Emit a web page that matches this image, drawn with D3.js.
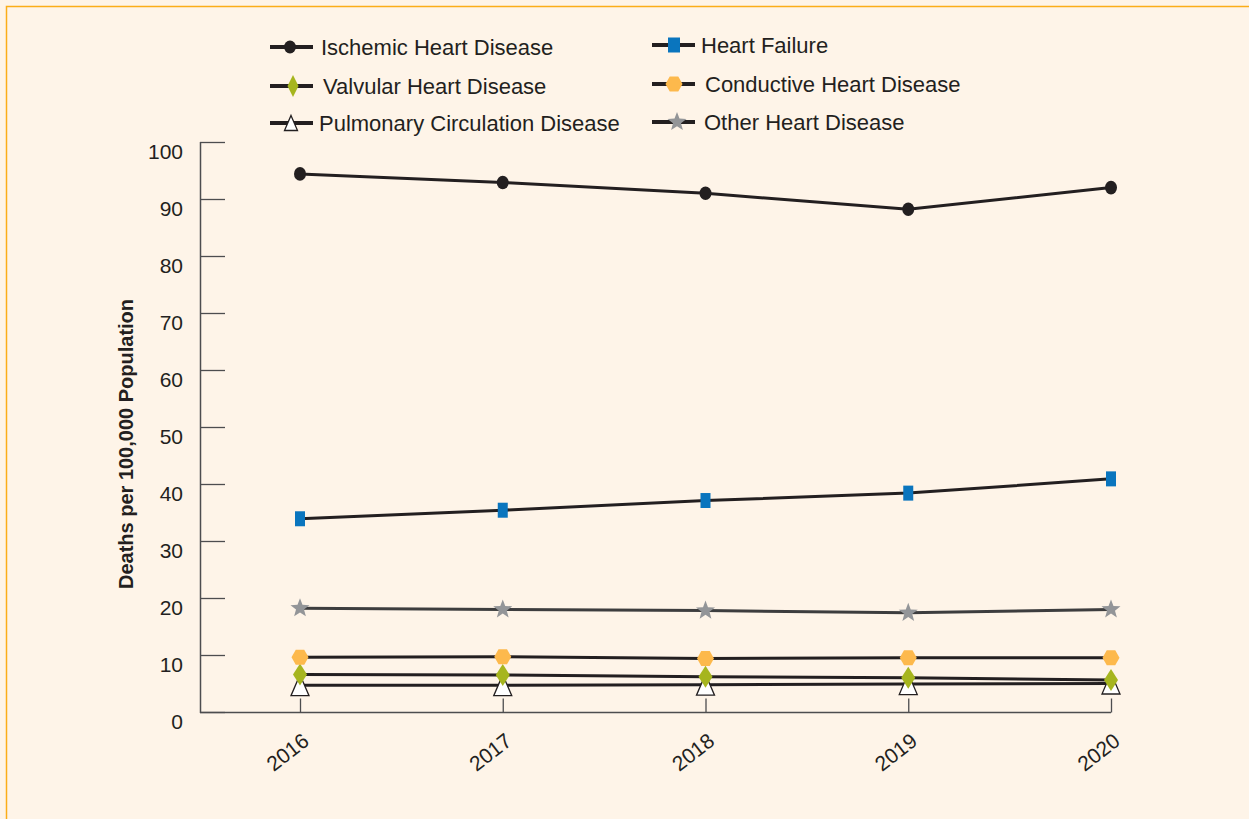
<!DOCTYPE html>
<html>
<head>
<meta charset="utf-8">
<script src="https://cdn.jsdelivr.net/npm/d3@7"></script>
<style>
  html, body { margin: 0; padding: 0; background: #fef4e8; }
  svg { display: block; font-family: "Liberation Sans", Arial, Helvetica, sans-serif; }
</style>
</head>
<body>
<svg id="chart" width="1249" height="819"></svg>
<script>
// ---- data ----
const years = ["2016", "2017", "2018", "2019", "2020"];
const yTicks = [0, 10, 20, 30, 40, 50, 60, 70, 80, 90, 100];
const ischemic = [94.4, 92.9, 91.0, 88.2, 92.0];
const heartFailure = [33.9, 35.4, 37.1, 38.4, 40.9];
const otherHeart = [18.2, 18.0, 17.8, 17.4, 18.0];
const conductive = [9.6, 9.7, 9.4, 9.5, 9.5];
const valvular = [6.6, 6.5, 6.2, 6.0, 5.6];
const pulmonary = [4.7, 4.7, 4.8, 4.9, 5.0];
const seriesNames = ["Ischemic Heart Disease", "Heart Failure", "Valvular Heart Disease",
  "Conductive Heart Disease", "Pulmonary Circulation Disease", "Other Heart Disease"];
const yLabel = "Deaths per 100,000 Population";

// ---- setup ----
const svg = d3.select("#chart");
const ink = "#231f20";

svg.append("rect").attr("x", 6.5).attr("y", 6.5).attr("width", 1300).attr("height", 900)
  .attr("fill", "#fef4e8").attr("stroke", "#fbad18").attr("stroke-width", 1.5);

const x = d3.scalePoint().domain(years).range([300, 1111]);
const y = d3.scaleLinear().domain([0, 100]).range([712, 142]);

// marker path builders (centered at 0,0)
function ellipsePath(rx, ry) {
  return `M${-rx},0A${rx},${ry} 0 1,0 ${rx},0A${rx},${ry} 0 1,0 ${-rx},0Z`;
}
function rectPath(w, h) { return `M${-w/2},${-h/2}h${w}v${h}h${-w}Z`; }
function diamondPath(w, h) { return `M0,${-h/2}L${w/2},0L0,${h/2}L${-w/2},0Z`; }
function hexPath(w, h) {
  const a = w / 2, q = w / 4, b = h / 2;
  return `M${-a},0L${-q},${-b}L${q},${-b}L${a},0L${q},${b}L${-q},${b}Z`;
}
function triPath(w, h) { return `M0,${-h/2}L${w/2},${h/2}L${-w/2},${h/2}Z`; }
function starPath(r) {
  const pts = [];
  for (let i = 0; i < 10; i++) {
    const rr = i % 2 === 0 ? r : r * 0.42;
    const ang = -Math.PI / 2 + i * Math.PI / 5;
    pts.push([rr * Math.cos(ang), rr * Math.sin(ang)]);
  }
  return "M" + pts.map(p => p[0].toFixed(2) + "," + p[1].toFixed(2)).join("L") + "Z";
}

const series = [
  { name: seriesNames[4], values: pulmonary, line: ink, marker: triPath(18, 21), legendMarker: triPath(13, 15), fill: "#ffffff", stroke: ink, sw: 1.3 },
  { name: seriesNames[2], values: valvular, line: ink, marker: diamondPath(14, 22), legendMarker: diamondPath(11, 22), fill: "#a6b51e", stroke: "none", sw: 0 },
  { name: seriesNames[3], values: conductive, line: ink, marker: hexPath(17, 15), legendMarker: hexPath(17, 15), fill: "#fdb94c", stroke: "none", sw: 0 },
  { name: seriesNames[5], values: otherHeart, line: "#3d3d3e", marker: starPath(10), legendMarker: starPath(10), fill: "#939598", stroke: "none", sw: 0 },
  { name: seriesNames[1], values: heartFailure, line: ink, marker: rectPath(10, 15), legendMarker: rectPath(12, 15), fill: "#0a75be", stroke: "none", sw: 0 },
  { name: seriesNames[0], values: ischemic, line: ink, marker: ellipsePath(6, 6.8), legendMarker: ellipsePath(6, 6.5), fill: ink, stroke: "none", sw: 0 }
];

// ---- axes ----
const yAxis = d3.axisLeft(y).tickValues(yTicks).tickSize(-25).tickSizeOuter(0).tickPadding(17);
const gy = svg.append("g").attr("transform", "translate(200,0)").call(yAxis);
gy.select(".domain").attr("stroke", "#4d4d4f").attr("stroke-width", 1.5).attr("d", `M0.5,${y(100)}V${y(0) + 1}`);
gy.selectAll(".tick line").attr("stroke", "#4d4d4f").attr("stroke-width", 1.3);
gy.selectAll(".tick text").attr("fill", ink).attr("font-size", 21).attr("dy", "0.32em")
  .attr("transform", "translate(0,10)");

const xAxis = d3.axisBottom(x).tickSize(-14).tickSizeOuter(0).tickPadding(8);
const gx = svg.append("g").attr("transform", `translate(0,${y(0) + 0.5})`).call(xAxis);
gx.select(".domain").attr("d", `M200,0H${x("2020")}`).attr("stroke", "#4d4d4f").attr("stroke-width", 1.3);
gx.selectAll(".tick line").attr("stroke", "#4d4d4f").attr("stroke-width", 1.3);
gx.selectAll(".tick text").attr("fill", ink).attr("font-size", 21)
  .attr("text-anchor", "end").attr("dy", "0").attr("y", 0)
  .attr("transform", "translate(10,31) rotate(-38)");

svg.append("text")
  .attr("transform", `translate(133,${444}) rotate(-90)`)
  .attr("text-anchor", "middle")
  .attr("font-size", 20).attr("font-weight", "bold").attr("fill", ink)
  .text(yLabel);

// ---- lines ----
const line = d3.line().x((d, i) => x(years[i])).y(d => y(d));
series.forEach(s => {
  svg.append("path").attr("d", line(s.values)).attr("fill", "none")
    .attr("stroke", s.line).attr("stroke-width", 3);
});
// ---- markers ----
series.forEach(s => {
  svg.append("g").selectAll("path").data(s.values).join("path")
    .attr("d", s.marker)
    .attr("transform", (d, i) => `translate(${x(years[i])},${y(d)})`)
    .attr("fill", s.fill).attr("stroke", s.stroke).attr("stroke-width", s.sw);
});

// ---- legend ----
const legendItems = [
  { s: series[5], x: 270, y: 47, mx: 290, tx: 321 },
  { s: series[1], x: 270, y: 86, mx: 293, tx: 323 },
  { s: series[0], x: 270, y: 123, mx: 291, tx: 319 },
  { s: series[4], x: 652, y: 45, mx: 674, tx: 701 },
  { s: series[2], x: 652, y: 84, mx: 674, tx: 705 },
  { s: series[3], x: 652, y: 122, mx: 677, tx: 704 }
];
const lg = svg.append("g");
legendItems.forEach(it => {
  lg.append("line").attr("x1", it.x).attr("x2", it.x + 43).attr("y1", it.y).attr("y2", it.y)
    .attr("stroke", ink).attr("stroke-width", 4);
  lg.append("path").attr("d", it.s.legendMarker).attr("transform", `translate(${it.mx},${it.y})`)
    .attr("fill", it.s.fill).attr("stroke", it.s.stroke).attr("stroke-width", it.s.sw);
  lg.append("text").attr("x", it.tx).attr("y", it.y).attr("dy", "0.35em")
    .attr("font-size", 22).attr("fill", ink).text(it.s.name);
});
</script>
</body>
</html>
